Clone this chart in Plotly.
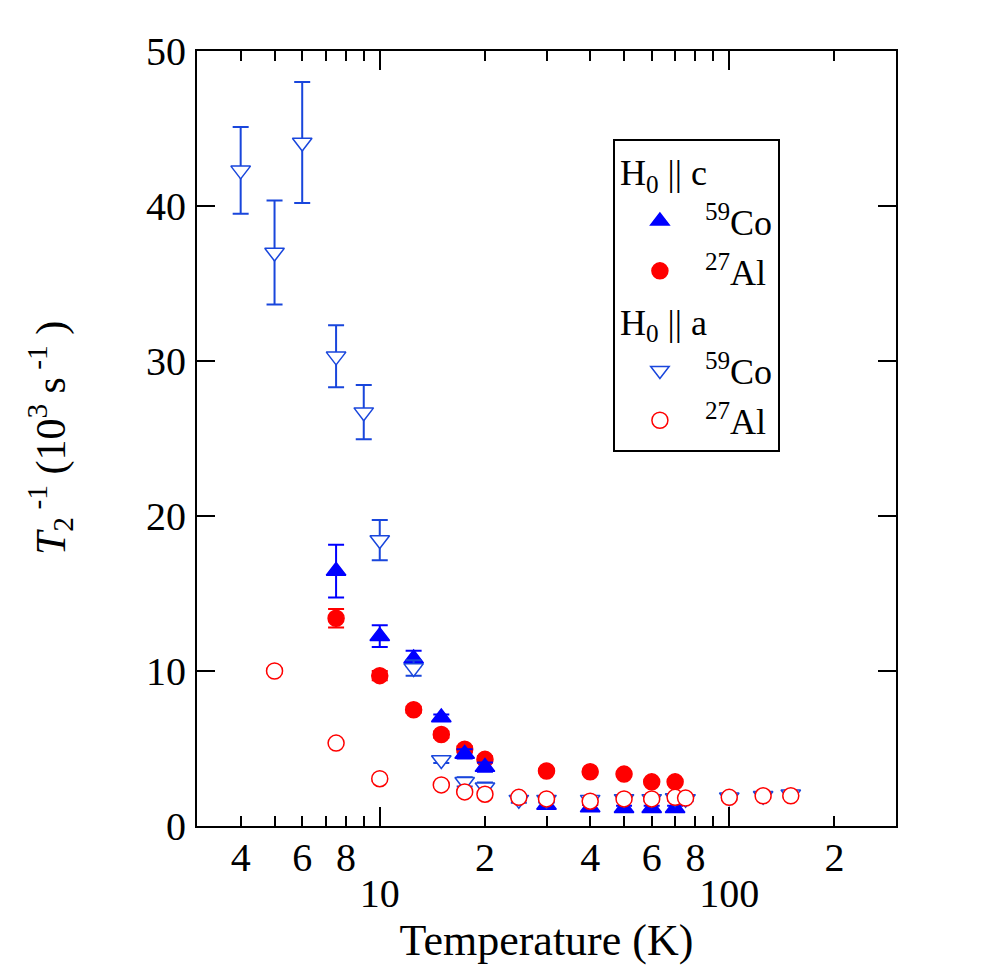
import numpy as np
import plotly.graph_objects as go

# ---- data ----
# H0 || c, 59Co (filled triangles)
T_c_co = [7.5, 10, 12.5, 15, 17.5, 20, 30, 40, 50, 60, 70]
R_c_co = [16.45, 12.25, 10.8, 7.0, 4.65, 3.8, 1.35, 1.2, 1.15, 1.15, 1.15]
E_c_co = [1.7, 0.7, 0.5, 0.2, 0.3, 0.3, 0.2, 0.15, 0.15, 0.15, 0.15]

# H0 || c, 27Al (filled circles)
T_c_al = [7.5, 10, 12.5, 15, 17.5, 20, 30, 40, 50, 60, 70]
R_c_al = [13.4, 9.7, 7.5, 5.9, 4.95, 4.3, 3.55, 3.5, 3.35, 2.85, 2.85]
E_c_al = [0.6, 0.3, 0.2, 0.2, 0.2, 0.2, 0.1, 0.1, 0.1, 0.1, 0.1]

# H0 || a, 59Co (open down-triangles)
T_a_co = [4, 5, 6, 7.5, 9, 10, 12.5, 15, 17.5, 20, 25, 30, 40, 50, 60, 70, 75, 100, 125, 150]
R_a_co = [42.3, 37.0, 44.1, 30.3, 26.7, 18.45, 10.2, 4.26, 2.85, 2.5, 1.7, 1.7, 1.7, 1.75, 1.75,
          1.8, 1.75, 1.85, 1.95, 2.05]
E_a_co = [2.8, 3.35, 3.9, 2.0, 1.75, 1.3, 0.5, 0.2, 0.3, 0.3, 0.2, 0.2, 0.15, 0.15, 0.15,
          0.15, 0.15, 0.15, 0.15, 0.2]

# H0 || a, 27Al (open circles)
T_a_al = [5, 7.5, 10, 15, 17.5, 20, 25, 30, 40, 50, 60, 70, 75, 100, 125, 150]
R_a_al = [10.0, 5.35, 3.05, 2.65, 2.2, 2.05, 1.85, 1.75, 1.6, 1.75, 1.75, 1.85, 1.8, 1.85, 1.95, 1.95]
E_a_al = [0.15, 0.1, 0.15, 0.1, 0.1, 0.1, 0.1, 0.1, 0.1, 0.1, 0.1, 0.1, 0.1, 0.1, 0.1, 0.1]

# axis ticks
x_major_vals = [10, 100]
x_major_text = ["10", "100"]
x_label_vals = [4, 6, 8, 20, 40, 60, 80, 200]
x_label_text = ["4", "6", "8", "2", "4", "6", "8", "2"]
x_unlabeled_vals = [5, 7, 9, 30, 50, 70, 90]
x_minor_vals = [4, 5, 6, 7, 8, 9, 20, 30, 40, 50, 60, 70, 80, 90, 200]
y_tick_vals = [0, 10, 20, 30, 40, 50]

BLUE = "rgb(0,0,255)"
BLUE_OPEN = "rgb(25,70,220)"
RED = "rgb(255,0,0)"
FONT = "Liberation Serif"

fig = go.Figure()


def add(T, R, E, name, symbol, size, fill, line, group, gtitle, rank, xaxis="x"):
    fig.add_trace(go.Scatter(
        x=T, y=R, mode="markers", name=name, xaxis=xaxis,
        legendgroup=group, legendrank=rank,
        legendgrouptitle=dict(text=gtitle, font=dict(family=FONT, size=36, color="black")),
        marker=dict(symbol=symbol, size=size, color=fill, line=dict(color=line, width=1.5)),
        error_y=dict(type="data", array=E, color=line, thickness=2, width=8),
    ))


# drawing order: filled circles, filled triangles, open triangles, open circles
add(T_c_al, R_c_al, E_c_al, "<sup>27</sup>Al", "circle", 16, RED, RED, "c", "H<sub>0</sub> || c", 2)
add(T_c_co, R_c_co, E_c_co, "<sup>59</sup>Co", "triangle-up", 17, BLUE, BLUE, "c", "H<sub>0</sub> || c", 1)
add(T_a_co, R_a_co, E_a_co, "<sup>59</sup>Co", "triangle-down", 17, "white", BLUE_OPEN, "a",
    "H<sub>0</sub> || a", 3, xaxis="x2")
add(T_a_al, R_a_al, E_a_al, "<sup>27</sup>Al", "circle", 16, "white", RED, "a",
    "H<sub>0</sub> || a", 4, xaxis="x3")

xr = [np.log10(3), np.log10(300)]
tick_style = dict(tickwidth=2, tickcolor="black", showgrid=False, zeroline=False,
                  showline=True, linewidth=2, linecolor="black")

fig.update_layout(
    width=1000, height=973,
    margin=dict(l=197, r=104, t=51, b=147),
    paper_bgcolor="white", plot_bgcolor="white",
    font=dict(family=FONT, size=40, color="black"),
    xaxis=dict(
        type="log", range=xr, tickmode="array", tickvals=x_major_vals, ticktext=x_major_text,
        ticks="inside", ticklen=19, mirror="ticks", ticklabelstandoff=31,
        title=dict(text="Temperature (K)", font=dict(family=FONT, size=44), standoff=1),
        **tick_style,
    ),
    # top minor ticks (no labels)
    xaxis2=dict(
        type="log", range=xr, overlaying="x", anchor="y", side="top",
        tickmode="array", tickvals=x_minor_vals, showticklabels=False,
        ticks="inside", ticklen=10, **tick_style,
    ),
    # bottom minor ticks with their labels
    xaxis3=dict(
        type="log", range=xr, overlaying="x", anchor="y", side="bottom",
        tickmode="array", tickvals=x_label_vals, ticktext=x_label_text,
        ticks="inside", ticklen=10, ticklabelstandoff=-5,
        minor=dict(tickmode="array", tickvals=x_unlabeled_vals, ticks="inside", ticklen=10,
                   tickwidth=2, tickcolor="black", showgrid=False),
        **tick_style,
    ),
    yaxis=dict(
        range=[0, 50], tickmode="array", tickvals=y_tick_vals,
        ticks="inside", ticklen=18, mirror="ticks", ticklabelstandoff=1,
        **tick_style,
    ),
    legend=dict(
        x=0.595, y=0.886, xanchor="left", yanchor="top",
        bordercolor="black", borderwidth=2, bgcolor="white",
        font=dict(family=FONT, size=36, color="black"),
        traceorder="grouped", tracegroupgap=0, itemsizing="trace", itemwidth=80,
    ),
    annotations=[dict(
        text="<i>T</i><sub>2</sub><sup> -1</sup> (10<sup>3</sup> s<sup> -1</sup> )",
        xref="paper", yref="paper", x=-0.211, y=0.5, xanchor="center", yanchor="middle",
        textangle=-90, showarrow=False, font=dict(family=FONT, size=42, color="black"),
    )],
    showlegend=True,
)

fig.write_html("out.html")
